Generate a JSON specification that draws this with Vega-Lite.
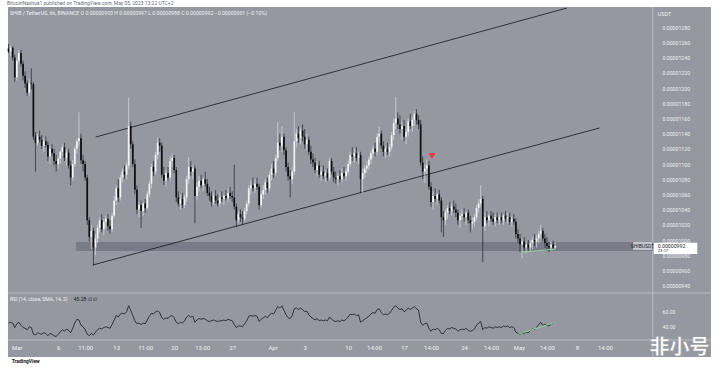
{
  "$schema": "https://vega.github.io/schema/vega-lite/v6.json",
  "width": 718,
  "height": 367,
  "autosize": "none",
  "padding": 0,
  "background": "#ffffff",
  "config": {"view": {"stroke": null}, "font": "Roboto", "axis": {"labelOverlap": false, "labelFlush": false, "labelBound": false}},
  "datasets": {
    "candles": [
{"i":0,"o":1252,"h":1258,"l":1246,"c":1248,"r":44},{"i":1,"o":1248,"h":1256,"l":1242,"c":1253,"r":45},{"i":2,"o":1253,"h":1255,"l":1236,"c":1240,"r":44},{"i":3,"o":1240,"h":1244,"l":1208,"c":1214,"r":38},{"i":4,"o":1214,"h":1240,"l":1210,"c":1236,"r":43},{"i":5,"o":1236,"h":1250,"l":1232,"c":1246,"r":45},{"i":6,"o":1246,"h":1250,"l":1228,"c":1232,"r":41},{"i":7,"o":1232,"h":1236,"l":1210,"c":1216,"r":38},{"i":8,"o":1216,"h":1222,"l":1200,"c":1206,"r":37},{"i":9,"o":1206,"h":1210,"l":1190,"c":1194,"r":35},
{"i":10,"o":1194,"h":1212,"l":1190,"c":1206,"r":39},{"i":11,"o":1206,"h":1226,"l":1198,"c":1205,"r":38},{"i":12,"o":1205,"h":1208,"l":1132,"c":1136,"r":29},{"i":13,"o":1136,"h":1142,"l":1090,"c":1128,"r":28},{"i":14,"o":1128,"h":1140,"l":1124,"c":1136,"r":31},{"i":15,"o":1136,"h":1144,"l":1128,"c":1132,"r":30},{"i":16,"o":1132,"h":1138,"l":1120,"c":1124,"r":29},{"i":17,"o":1124,"h":1134,"l":1116,"c":1130,"r":31},{"i":18,"o":1130,"h":1136,"l":1122,"c":1125,"r":30},{"i":19,"o":1125,"h":1130,"l":1104,"c":1110,"r":27},
{"i":20,"o":1110,"h":1124,"l":1100,"c":1120,"r":30},{"i":21,"o":1120,"h":1126,"l":1110,"c":1114,"r":29},{"i":22,"o":1114,"h":1120,"l":1098,"c":1104,"r":27},{"i":23,"o":1104,"h":1112,"l":1090,"c":1100,"r":26},{"i":24,"o":1100,"h":1110,"l":1094,"c":1107,"r":29},{"i":25,"o":1107,"h":1118,"l":1100,"c":1116,"r":32},{"i":26,"o":1116,"h":1126,"l":1110,"c":1122,"r":35},{"i":27,"o":1122,"h":1128,"l":1104,"c":1108,"r":33},{"i":28,"o":1108,"h":1120,"l":1098,"c":1115,"r":36},{"i":29,"o":1115,"h":1120,"l":1094,"c":1098,"r":34},
{"i":30,"o":1098,"h":1104,"l":1072,"c":1082,"r":31},{"i":31,"o":1082,"h":1105,"l":1078,"c":1100,"r":37},{"i":32,"o":1100,"h":1124,"l":1096,"c":1120,"r":44},{"i":33,"o":1120,"h":1134,"l":1114,"c":1130,"r":49},{"i":34,"o":1130,"h":1168,"l":1124,"c":1134,"r":48},{"i":35,"o":1134,"h":1140,"l":1100,"c":1105,"r":41},{"i":36,"o":1105,"h":1112,"l":1090,"c":1100,"r":39},{"i":37,"o":1100,"h":1104,"l":1078,"c":1082,"r":35},{"i":38,"o":1082,"h":1086,"l":1020,"c":1026,"r":29},{"i":39,"o":1026,"h":1030,"l":998,"c":1004,"r":27},
{"i":40,"o":1004,"h":1020,"l":988,"c":1012,"r":30},{"i":41,"o":1012,"h":1016,"l":966,"c":990,"r":28},{"i":42,"o":990,"h":1008,"l":980,"c":1002,"r":32},{"i":43,"o":1002,"h":1020,"l":996,"c":1016,"r":35},{"i":44,"o":1016,"h":1030,"l":1010,"c":1026,"r":37},{"i":45,"o":1026,"h":1034,"l":1010,"c":1014,"r":36},{"i":46,"o":1014,"h":1028,"l":1006,"c":1024,"r":38},{"i":47,"o":1024,"h":1032,"l":1016,"c":1028,"r":39},{"i":48,"o":1028,"h":1034,"l":1012,"c":1018,"r":38},{"i":49,"o":1018,"h":1026,"l":1008,"c":1014,"r":37},
{"i":50,"o":1014,"h":1036,"l":1010,"c":1032,"r":42},{"i":51,"o":1032,"h":1058,"l":1028,"c":1052,"r":48},{"i":52,"o":1052,"h":1072,"l":1046,"c":1068,"r":54},{"i":53,"o":1068,"h":1080,"l":1050,"c":1056,"r":52},{"i":54,"o":1056,"h":1086,"l":1052,"c":1082,"r":56},{"i":55,"o":1082,"h":1094,"l":1076,"c":1090,"r":57},{"i":56,"o":1090,"h":1098,"l":1080,"c":1086,"r":56},{"i":57,"o":1086,"h":1102,"l":1080,"c":1098,"r":59},{"i":58,"o":1098,"h":1187,"l":1094,"c":1150,"r":67},{"i":59,"o":1150,"h":1156,"l":1120,"c":1126,"r":61},
{"i":60,"o":1126,"h":1130,"l":1096,"c":1100,"r":54},{"i":61,"o":1100,"h":1106,"l":1060,"c":1066,"r":47},{"i":62,"o":1066,"h":1072,"l":1034,"c":1040,"r":43},{"i":63,"o":1040,"h":1050,"l":1030,"c":1046,"r":44},{"i":64,"o":1046,"h":1052,"l":1016,"c":1038,"r":42},{"i":65,"o":1038,"h":1050,"l":1032,"c":1048,"r":44},{"i":66,"o":1048,"h":1054,"l":1036,"c":1042,"r":43},{"i":67,"o":1042,"h":1064,"l":1040,"c":1060,"r":48},{"i":68,"o":1060,"h":1078,"l":1056,"c":1074,"r":53},{"i":69,"o":1074,"h":1100,"l":1068,"c":1096,"r":57},
{"i":70,"o":1096,"h":1104,"l":1084,"c":1090,"r":56},{"i":71,"o":1090,"h":1116,"l":1086,"c":1112,"r":59},{"i":72,"o":1112,"h":1135,"l":1106,"c":1128,"r":60},{"i":73,"o":1128,"h":1134,"l":1116,"c":1124,"r":58},{"i":74,"o":1124,"h":1128,"l":1082,"c":1086,"r":51},{"i":75,"o":1086,"h":1096,"l":1072,"c":1078,"r":49},{"i":76,"o":1078,"h":1092,"l":1070,"c":1088,"r":51},{"i":77,"o":1088,"h":1096,"l":1078,"c":1082,"r":50},{"i":78,"o":1082,"h":1110,"l":1078,"c":1104,"r":53},{"i":79,"o":1104,"h":1114,"l":1096,"c":1108,"r":54},
{"i":80,"o":1108,"h":1112,"l":1088,"c":1092,"r":51},{"i":81,"o":1092,"h":1096,"l":1050,"c":1056,"r":45},{"i":82,"o":1056,"h":1064,"l":1044,"c":1048,"r":43},{"i":83,"o":1048,"h":1060,"l":1040,"c":1054,"r":45},{"i":84,"o":1054,"h":1062,"l":1042,"c":1046,"r":44},{"i":85,"o":1046,"h":1060,"l":1042,"c":1056,"r":47},{"i":86,"o":1056,"h":1084,"l":1050,"c":1080,"r":52},{"i":87,"o":1080,"h":1109,"l":1074,"c":1096,"r":54},{"i":88,"o":1096,"h":1104,"l":1084,"c":1090,"r":52},{"i":89,"o":1090,"h":1098,"l":1080,"c":1094,"r":53},
{"i":90,"o":1094,"h":1098,"l":1022,"c":1058,"r":45},{"i":91,"o":1058,"h":1076,"l":1052,"c":1070,"r":48},{"i":92,"o":1070,"h":1084,"l":1064,"c":1078,"r":50},{"i":93,"o":1078,"h":1086,"l":1068,"c":1072,"r":49},{"i":94,"o":1072,"h":1082,"l":1064,"c":1080,"r":50},{"i":95,"o":1080,"h":1090,"l":1070,"c":1074,"r":49},{"i":96,"o":1074,"h":1080,"l":1058,"c":1062,"r":47},{"i":97,"o":1062,"h":1070,"l":1052,"c":1058,"r":46},{"i":98,"o":1058,"h":1064,"l":1044,"c":1050,"r":47},{"i":99,"o":1050,"h":1062,"l":1046,"c":1058,"r":48},
{"i":100,"o":1058,"h":1066,"l":1048,"c":1052,"r":47},{"i":101,"o":1052,"h":1060,"l":1044,"c":1048,"r":46},{"i":102,"o":1048,"h":1062,"l":1044,"c":1056,"r":47},{"i":103,"o":1056,"h":1064,"l":1050,"c":1054,"r":47},{"i":104,"o":1054,"h":1060,"l":1046,"c":1058,"r":48},{"i":105,"o":1058,"h":1066,"l":1052,"c":1055,"r":47},{"i":106,"o":1055,"h":1068,"l":1050,"c":1062,"r":49},{"i":107,"o":1062,"h":1070,"l":1054,"c":1058,"r":48},{"i":108,"o":1058,"h":1064,"l":1050,"c":1056,"r":47},{"i":109,"o":1056,"h":1099,"l":1040,"c":1044,"r":42},
{"i":110,"o":1044,"h":1048,"l":1017,"c":1026,"r":38},{"i":111,"o":1026,"h":1038,"l":1022,"c":1034,"r":40},{"i":112,"o":1034,"h":1040,"l":1024,"c":1030,"r":40},{"i":113,"o":1030,"h":1038,"l":1020,"c":1028,"r":39},{"i":114,"o":1028,"h":1042,"l":1024,"c":1038,"r":43},{"i":115,"o":1038,"h":1052,"l":1034,"c":1048,"r":47},{"i":116,"o":1048,"h":1072,"l":1044,"c":1068,"r":53},{"i":117,"o":1068,"h":1078,"l":1060,"c":1072,"r":54},{"i":118,"o":1072,"h":1082,"l":1064,"c":1068,"r":53},{"i":119,"o":1068,"h":1080,"l":1062,"c":1074,"r":54},
{"i":120,"o":1074,"h":1082,"l":1066,"c":1070,"r":53},{"i":121,"o":1070,"h":1074,"l":1040,"c":1046,"r":46},{"i":122,"o":1046,"h":1064,"l":1042,"c":1060,"r":49},{"i":123,"o":1060,"h":1072,"l":1054,"c":1066,"r":51},{"i":124,"o":1066,"h":1080,"l":1060,"c":1076,"r":53},{"i":125,"o":1076,"h":1082,"l":1062,"c":1068,"r":51},{"i":126,"o":1068,"h":1090,"l":1064,"c":1086,"r":55},{"i":127,"o":1086,"h":1100,"l":1078,"c":1094,"r":57},{"i":128,"o":1094,"h":1104,"l":1082,"c":1088,"r":56},{"i":129,"o":1088,"h":1112,"l":1084,"c":1108,"r":61},
{"i":130,"o":1108,"h":1155,"l":1104,"c":1128,"r":66},{"i":131,"o":1128,"h":1140,"l":1118,"c":1124,"r":64},{"i":132,"o":1124,"h":1150,"l":1116,"c":1136,"r":67},{"i":133,"o":1136,"h":1140,"l":1112,"c":1118,"r":61},{"i":134,"o":1118,"h":1122,"l":1090,"c":1096,"r":55},{"i":135,"o":1096,"h":1102,"l":1078,"c":1084,"r":51},{"i":136,"o":1084,"h":1092,"l":1056,"c":1080,"r":50},{"i":137,"o":1080,"h":1096,"l":1074,"c":1090,"r":54},{"i":138,"o":1090,"h":1168,"l":1086,"c":1130,"r":63},{"i":139,"o":1130,"h":1146,"l":1122,"c":1140,"r":64},
{"i":140,"o":1140,"h":1150,"l":1128,"c":1134,"r":62},{"i":141,"o":1134,"h":1148,"l":1126,"c":1144,"r":64},{"i":142,"o":1144,"h":1152,"l":1130,"c":1136,"r":62},{"i":143,"o":1136,"h":1146,"l":1120,"c":1126,"r":59},{"i":144,"o":1126,"h":1140,"l":1118,"c":1132,"r":60},{"i":145,"o":1132,"h":1136,"l":1112,"c":1116,"r":55},{"i":146,"o":1116,"h":1124,"l":1100,"c":1106,"r":52},{"i":147,"o":1106,"h":1114,"l":1096,"c":1102,"r":50},{"i":148,"o":1102,"h":1108,"l":1088,"c":1092,"r":48},{"i":149,"o":1092,"h":1104,"l":1084,"c":1098,"r":50},
{"i":150,"o":1098,"h":1104,"l":1082,"c":1086,"r":47},{"i":151,"o":1086,"h":1096,"l":1078,"c":1090,"r":48},{"i":152,"o":1090,"h":1098,"l":1080,"c":1084,"r":47},{"i":153,"o":1084,"h":1092,"l":1076,"c":1088,"r":48},{"i":154,"o":1088,"h":1094,"l":1078,"c":1082,"r":47},{"i":155,"o":1082,"h":1108,"l":1078,"c":1104,"r":52},{"i":156,"o":1104,"h":1108,"l":1086,"c":1090,"r":49},{"i":157,"o":1090,"h":1096,"l":1076,"c":1082,"r":47},{"i":158,"o":1082,"h":1090,"l":1074,"c":1080,"r":46},{"i":159,"o":1080,"h":1088,"l":1072,"c":1084,"r":47},
{"i":160,"o":1084,"h":1092,"l":1076,"c":1080,"r":46},{"i":161,"o":1080,"h":1094,"l":1076,"c":1088,"r":48},{"i":162,"o":1088,"h":1096,"l":1080,"c":1084,"r":47},{"i":163,"o":1084,"h":1094,"l":1078,"c":1090,"r":49},{"i":164,"o":1090,"h":1104,"l":1086,"c":1100,"r":52},{"i":165,"o":1100,"h":1116,"l":1096,"c":1112,"r":56},{"i":166,"o":1112,"h":1122,"l":1104,"c":1110,"r":55},{"i":167,"o":1110,"h":1120,"l":1102,"c":1114,"r":56},{"i":168,"o":1114,"h":1122,"l":1104,"c":1108,"r":54},{"i":169,"o":1108,"h":1116,"l":1100,"c":1112,"r":55},
{"i":170,"o":1112,"h":1116,"l":1062,"c":1080,"r":45},{"i":171,"o":1080,"h":1094,"l":1062,"c":1088,"r":47},{"i":172,"o":1088,"h":1098,"l":1082,"c":1094,"r":49},{"i":173,"o":1094,"h":1104,"l":1088,"c":1098,"r":51},{"i":174,"o":1098,"h":1110,"l":1092,"c":1106,"r":53},{"i":175,"o":1106,"h":1118,"l":1100,"c":1114,"r":56},{"i":176,"o":1114,"h":1124,"l":1108,"c":1120,"r":58},{"i":177,"o":1120,"h":1128,"l":1110,"c":1116,"r":57},{"i":178,"o":1116,"h":1140,"l":1112,"c":1136,"r":62},{"i":179,"o":1136,"h":1149,"l":1128,"c":1140,"r":63},
{"i":180,"o":1140,"h":1144,"l":1120,"c":1124,"r":58},{"i":181,"o":1124,"h":1130,"l":1110,"c":1116,"r":55},{"i":182,"o":1116,"h":1124,"l":1108,"c":1120,"r":56},{"i":183,"o":1120,"h":1128,"l":1112,"c":1116,"r":55},{"i":184,"o":1116,"h":1126,"l":1110,"c":1122,"r":57},{"i":185,"o":1122,"h":1142,"l":1118,"c":1138,"r":61},{"i":186,"o":1138,"h":1160,"l":1132,"c":1154,"r":65},{"i":187,"o":1154,"h":1188,"l":1146,"c":1160,"r":67},{"i":188,"o":1160,"h":1168,"l":1146,"c":1152,"r":64},{"i":189,"o":1152,"h":1164,"l":1140,"c":1146,"r":62},
{"i":190,"o":1146,"h":1156,"l":1132,"c":1150,"r":63},{"i":191,"o":1150,"h":1158,"l":1130,"c":1136,"r":59},{"i":192,"o":1136,"h":1146,"l":1126,"c":1142,"r":61},{"i":193,"o":1142,"h":1160,"l":1136,"c":1156,"r":64},{"i":194,"o":1156,"h":1166,"l":1146,"c":1150,"r":62},{"i":195,"o":1150,"h":1162,"l":1142,"c":1158,"r":64},{"i":196,"o":1158,"h":1170,"l":1150,"c":1166,"r":66},{"i":197,"o":1166,"h":1172,"l":1152,"c":1158,"r":63},{"i":198,"o":1158,"h":1164,"l":1146,"c":1152,"r":61},{"i":199,"o":1152,"h":1158,"l":1098,"c":1102,"r":45},
{"i":200,"o":1102,"h":1110,"l":1080,"c":1090,"r":41},{"i":201,"o":1090,"h":1100,"l":1075,"c":1094,"r":43},{"i":202,"o":1094,"h":1106,"l":1086,"c":1098,"r":44},{"i":203,"o":1098,"h":1104,"l":1066,"c":1070,"r":37},{"i":204,"o":1070,"h":1076,"l":1044,"c":1050,"r":33},{"i":205,"o":1050,"h":1064,"l":1040,"c":1058,"r":36},{"i":206,"o":1058,"h":1068,"l":1050,"c":1054,"r":35},{"i":207,"o":1054,"h":1062,"l":1046,"c":1060,"r":37},{"i":208,"o":1060,"h":1066,"l":1048,"c":1052,"r":35},{"i":209,"o":1052,"h":1056,"l":1010,"c":1030,"r":30},
{"i":210,"o":1030,"h":1038,"l":1004,"c":1026,"r":30},{"i":211,"o":1026,"h":1040,"l":1020,"c":1036,"r":34},{"i":212,"o":1036,"h":1046,"l":1028,"c":1042,"r":37},{"i":213,"o":1042,"h":1050,"l":1034,"c":1038,"r":36},{"i":214,"o":1038,"h":1048,"l":1032,"c":1044,"r":38},{"i":215,"o":1044,"h":1052,"l":1036,"c":1040,"r":37},{"i":216,"o":1040,"h":1048,"l":1030,"c":1036,"r":36},{"i":217,"o":1036,"h":1040,"l":1020,"c":1026,"r":33},{"i":218,"o":1026,"h":1036,"l":1016,"c":1032,"r":35},{"i":219,"o":1032,"h":1040,"l":1026,"c":1034,"r":36},
{"i":220,"o":1034,"h":1042,"l":1024,"c":1030,"r":35},{"i":221,"o":1030,"h":1038,"l":1020,"c":1036,"r":37},{"i":222,"o":1036,"h":1040,"l":1022,"c":1026,"r":34},{"i":223,"o":1026,"h":1032,"l":1010,"c":1022,"r":33},{"i":224,"o":1022,"h":1030,"l":1014,"c":1024,"r":34},{"i":225,"o":1024,"h":1034,"l":1018,"c":1030,"r":36},{"i":226,"o":1030,"h":1046,"l":1026,"c":1042,"r":41},{"i":227,"o":1042,"h":1054,"l":1036,"c":1048,"r":44},{"i":228,"o":1048,"h":1072,"l":1044,"c":1054,"r":46},{"i":229,"o":1054,"h":1058,"l":971,"c":1018,"r":35},
{"i":230,"o":1018,"h":1036,"l":1012,"c":1030,"r":38},{"i":231,"o":1030,"h":1038,"l":1022,"c":1026,"r":37},{"i":232,"o":1026,"h":1034,"l":1018,"c":1032,"r":39},{"i":233,"o":1032,"h":1038,"l":1024,"c":1028,"r":38},{"i":234,"o":1028,"h":1036,"l":1020,"c":1024,"r":37},{"i":235,"o":1024,"h":1034,"l":1018,"c":1030,"r":39},{"i":236,"o":1030,"h":1036,"l":1022,"c":1026,"r":38},{"i":237,"o":1026,"h":1034,"l":1020,"c":1030,"r":39},{"i":238,"o":1030,"h":1036,"l":1022,"c":1026,"r":38},{"i":239,"o":1026,"h":1034,"l":1020,"c":1032,"r":40},
{"i":240,"o":1032,"h":1038,"l":1024,"c":1028,"r":39},{"i":241,"o":1028,"h":1036,"l":1022,"c":1030,"r":40},{"i":242,"o":1030,"h":1036,"l":1020,"c":1024,"r":38},{"i":243,"o":1024,"h":1032,"l":1018,"c":1028,"r":39},{"i":244,"o":1028,"h":1034,"l":1020,"c":1024,"r":38},{"i":245,"o":1024,"h":1028,"l":1002,"c":1008,"r":32},{"i":246,"o":1008,"h":1014,"l":996,"c":1002,"r":30},{"i":247,"o":1002,"h":1008,"l":984,"c":994,"r":29},{"i":248,"o":994,"h":1002,"l":976,"c":998,"r":31},{"i":249,"o":998,"h":1004,"l":986,"c":990,"r":30},
{"i":250,"o":990,"h":998,"l":982,"c":994,"r":32},{"i":251,"o":994,"h":1000,"l":986,"c":990,"r":31},{"i":252,"o":990,"h":1000,"l":984,"c":996,"r":34},{"i":253,"o":996,"h":1004,"l":988,"c":1000,"r":36},{"i":254,"o":1000,"h":1008,"l":992,"c":998,"r":35},{"i":255,"o":998,"h":1006,"l":990,"c":1002,"r":38},{"i":256,"o":1002,"h":1012,"l":996,"c":1008,"r":42},{"i":257,"o":1008,"h":1020,"l":1002,"c":1012,"r":45},{"i":258,"o":1012,"h":1016,"l":998,"c":1002,"r":41},{"i":259,"o":1002,"h":1008,"l":990,"c":996,"r":42},
{"i":260,"o":996,"h":1004,"l":986,"c":992,"r":41},{"i":261,"o":992,"h":998,"l":984,"c":990,"r":40},{"i":262,"o":990,"h":998,"l":986,"c":994,"r":43},{"i":263,"o":994,"h":999,"l":988,"c":990,"r":44},{"i":264,"o":990,"h":997,"l":988,"c":992,"r":45}
    ],
    "trend": [{"a":42.1,"pa":1135.5,"b":269.7,"pb":1305.3},{"a":40.67,"pa":967.1,"b":285.4,"pb":1147.4}],
    "zone": [{"a":32.6,"b":311.1,"lo":985.5,"hi":997.4}],
    "greenPrice": [{"a":248,"pa":984,"b":264,"pb":988}],
    "greenRsi": [{"a":246,"ra":29,"b":264,"rb":45}],
    "signal": [{"i":204.5,"p":1110.5}]
  },
  "layer": [
    {
      "layer": [
        {
          "data": {"values": [{}]},
          "mark": {"type": "rect", "color": "#9598a1"},
          "encoding": {
            "x": {"datum": -0.286, "type": "quantitative", "scale": {"domain": [-1.714, 340.19], "nice": false, "zero": false},
                  "axis": {"orient": "bottom", "offset": -27, "tickCount": 100, "values": [4,24,37,52,66,80,93.5,108,127.5,143,164,176.5,191,204,220,233,246.5,260,274.5,288],
                           "labelExpr": "['Mar','6','11:00','13','11:00','20','13:00','27','Apr','3','10','14:00','17','14:00','24','14:00','May','14:00','8','14:00'][indexof([4,24,37,52,66,80,93.5,108,127.5,143,164,176.5,191,204,220,233,246.5,260,274.5,288], datum.value)]",
                           "domain": false, "ticks": false, "grid": false, "labelPadding": 4, "labelFontSize": 6, "labelColor": "#eef0f4", "labelOverlap": false, "labelFlush": false, "title": null, "zindex": 2}},
            "x2": {"datum": 339.2},
            "y": {"datum": 1306.6, "type": "quantitative", "scale": {"domain": [940, 1280], "range": [285.6, 27.2], "nice": false, "zero": false},
                  "axis": {"orient": "right", "offset": -61, "tickCount": 100, "values": [940,960,980,1000,1020,1040,1060,1080,1100,1120,1140,1160,1180,1200,1220,1240,1260,1280],
                           "labelExpr": "format(datum.value/100000000, '.8f')", "domain": false, "ticks": false, "grid": false, "labelPadding": 5, "labelFontSize": 5.2, "labelColor": "#eef0f4", "labelOverlap": false, "labelFlush": false, "title": null, "zindex": 1}},
            "y2": {"datum": 846.05}
          }
        },
        {
          "data": {"values": [{}]},
          "mark": {"type": "rule", "color": "#b9bcc4", "strokeWidth": 1},
          "encoding": {"x": {"datum": -0.286, "type": "quantitative"}, "x2": {"datum": 339.2}, "y": {"datum": 930.3, "type": "quantitative"}}
        },
        {
          "data": {"values": [{}]},
          "mark": {"type": "rule", "color": "#b9bcc4", "strokeWidth": 1},
          "encoding": {"x": {"datum": -0.286, "type": "quantitative"}, "x2": {"datum": 339.2}, "y": {"datum": 868.4, "type": "quantitative"}}
        },
        {
          "data": {"values": [{}]},
          "mark": {"type": "rule", "color": "#b9bcc4", "strokeWidth": 1},
          "encoding": {"x": {"datum": 311.14, "type": "quantitative"}, "y": {"datum": 1306.6, "type": "quantitative"}, "y2": {"datum": 846.05}}
        },
        {
          "data": {"name": "zone"},
          "mark": {"type": "rect", "color": "#747782", "opacity": 0.85},
          "encoding": {"x": {"field": "a", "type": "quantitative"}, "x2": {"field": "b"}, "y": {"field": "hi", "type": "quantitative"}, "y2": {"field": "lo"}}
        },
        {
          "data": {"name": "trend"},
          "mark": {"type": "rule", "color": "#15171c", "strokeWidth": 0.8},
          "encoding": {"x": {"field": "a", "type": "quantitative"}, "x2": {"field": "b"}, "y": {"field": "pa", "type": "quantitative"}, "y2": {"field": "pb"}}
        },
        {
          "data": {"name": "candles"},
          "mark": {"type": "rule", "strokeWidth": 0.7},
          "encoding": {
            "x": {"field": "i", "type": "quantitative"},
            "y": {"field": "l", "type": "quantitative"},
            "y2": {"field": "h"},
            "color": {"condition": {"test": "datum.c >= datum.o", "value": "#d9dbe0"}, "value": "#202226"}
          }
        },
        {
          "data": {"name": "candles"},
          "mark": {"type": "bar", "size": 1.7},
          "encoding": {
            "x": {"field": "i", "type": "quantitative"},
            "y": {"field": "o", "type": "quantitative"},
            "y2": {"field": "c"},
            "color": {"condition": {"test": "datum.c >= datum.o", "value": "#f4f4f6"}, "value": "#0e0f12"}
          }
        },
        {
          "data": {"name": "greenPrice"},
          "mark": {"type": "rule", "color": "#8fd19e", "strokeWidth": 1},
          "encoding": {"x": {"field": "a", "type": "quantitative"}, "x2": {"field": "b"}, "y": {"field": "pa", "type": "quantitative"}, "y2": {"field": "pb"}}
        },
        {
          "data": {"name": "signal"},
          "mark": {"type": "point", "shape": "triangle-down", "filled": true, "size": 45, "color": "#f23645", "opacity": 1},
          "encoding": {"x": {"field": "i", "type": "quantitative"}, "y": {"field": "p", "type": "quantitative"}}
        },
        {
          "data": {"values": [{}]},
          "mark": {"type": "text", "align": "left", "baseline": "middle", "fontSize": 5, "color": "#6a6d78", "text": "BitcoinNashua1 published on TradingView.com, May 05, 2023 13:22 UTC+2"},
          "encoding": {"x": {"datum": -0.76, "type": "quantitative"}, "y": {"datum": 1311.8, "type": "quantitative"}}
        },
        {
          "data": {"values": [{}]},
          "mark": {"type": "text", "align": "left", "baseline": "middle", "fontSize": 5.2, "color": "#eef0f4", "text": "SHIB / TetherUS, 6h, BINANCE   O 0.00000993  H 0.00000997  L 0.00000988  C 0.00000992  −0.00000001 (−0.10%)"},
          "encoding": {"x": {"datum": 0.67, "type": "quantitative"}, "y": {"datum": 1298.7, "type": "quantitative"}}
        },
        {
          "data": {"values": [{}]},
          "mark": {"type": "text", "align": "left", "baseline": "middle", "fontSize": 5.5, "color": "#eef0f4", "text": "USDT"},
          "encoding": {"x": {"datum": 313.5, "type": "quantitative"}, "y": {"datum": 1297.4, "type": "quantitative"}}
        },
        {
          "data": {"values": [{}]},
          "mark": {"type": "rect", "color": "#c3c6cd"},
          "encoding": {"x": {"datum": 301.6, "type": "quantitative"}, "x2": {"datum": 310.7}, "y": {"datum": 997.4, "type": "quantitative"}, "y2": {"datum": 986.8}}
        },
        {
          "data": {"values": [{}]},
          "mark": {"type": "text", "align": "center", "baseline": "middle", "fontSize": 5, "color": "#1e222d", "text": "SHIBUSDT"},
          "encoding": {"x": {"datum": 306.15, "type": "quantitative"}, "y": {"datum": 992, "type": "quantitative"}}
        },
        {
          "data": {"values": [{}]},
          "mark": {"type": "rect", "color": "#ffffff"},
          "encoding": {"x": {"datum": 311.6, "type": "quantitative"}, "x2": {"datum": 332.6}, "y": {"datum": 996.3, "type": "quantitative"}, "y2": {"datum": 981.6}}
        },
        {
          "data": {"values": [{}]},
          "mark": {"type": "text", "align": "left", "baseline": "middle", "fontSize": 5.2, "color": "#1e222d", "text": "0.00000992"},
          "encoding": {"x": {"datum": 313.5, "type": "quantitative"}, "y": {"datum": 991.6, "type": "quantitative"}}
        },
        {
          "data": {"values": [{}]},
          "mark": {"type": "text", "align": "left", "baseline": "middle", "fontSize": 4.2, "color": "#1e222d", "text": "23:17"},
          "encoding": {"x": {"datum": 313.5, "type": "quantitative"}, "y": {"datum": 985.7, "type": "quantitative"}}
        },
        {
          "data": {"values": [{}]},
          "mark": {"type": "text", "align": "left", "baseline": "middle", "fontSize": 5, "fontWeight": "bold", "color": "#131722", "text": "TradingView"},
          "encoding": {"x": {"datum": 1.5, "type": "quantitative"}, "y": {"datum": 840.8, "type": "quantitative"}}
        },
        {
          "data": {"values": [{}]},
          "mark": {"type": "text", "align": "center", "baseline": "middle", "fontSize": 20, "fontWeight": "bold", "font": "Noto Sans CJK SC", "color": "#ffffff", "stroke": "#9a9a9a", "strokeWidth": 0.4, "text": "非小号"},
          "encoding": {"x": {"datum": 324, "type": "quantitative"}, "y": {"datum": 857.5, "type": "quantitative"}}
        }
      ]
    },
    {
      "layer": [
        {
          "data": {"name": "candles"},
          "mark": {"type": "line", "color": "#17191e", "strokeWidth": 0.8},
          "encoding": {
            "x": {"field": "i", "type": "quantitative"},
            "y": {"field": "r", "type": "quantitative", "scale": {"domain": [20, 80], "range": [341, 296], "nice": false, "zero": false},
                  "axis": {"orient": "right", "offset": -61, "values": [40, 60], "format": ".2f", "domain": false, "ticks": false, "grid": false, "labelPadding": 5, "labelFontSize": 5.2, "labelColor": "#eef0f4", "title": null, "zindex": 2}}
          }
        },
        {
          "data": {"name": "greenRsi"},
          "mark": {"type": "rule", "color": "#8fd19e", "strokeWidth": 1},
          "encoding": {"x": {"field": "a", "type": "quantitative"}, "x2": {"field": "b"}, "y": {"field": "ra", "type": "quantitative"}, "y2": {"field": "rb"}}
        },
        {
          "data": {"values": [{}]},
          "mark": {"type": "text", "align": "left", "baseline": "middle", "fontSize": 5, "color": "#eef0f4", "text": "RSI (14, close, SMA, 14, 2)"},
          "encoding": {"x": {"datum": 0.67, "type": "quantitative"}, "y": {"datum": 76, "type": "quantitative"}}
        },
        {
          "data": {"values": [{}]},
          "mark": {"type": "text", "align": "left", "baseline": "middle", "fontSize": 5, "color": "#17191e", "text": "45.28   ∅   ∅"},
          "encoding": {"x": {"datum": 31.5, "type": "quantitative"}, "y": {"datum": 76, "type": "quantitative"}}
        }
      ]
    }
  ],
  "resolve": {"scale": {"y": "independent"}, "axis": {"y": "independent"}}
}
